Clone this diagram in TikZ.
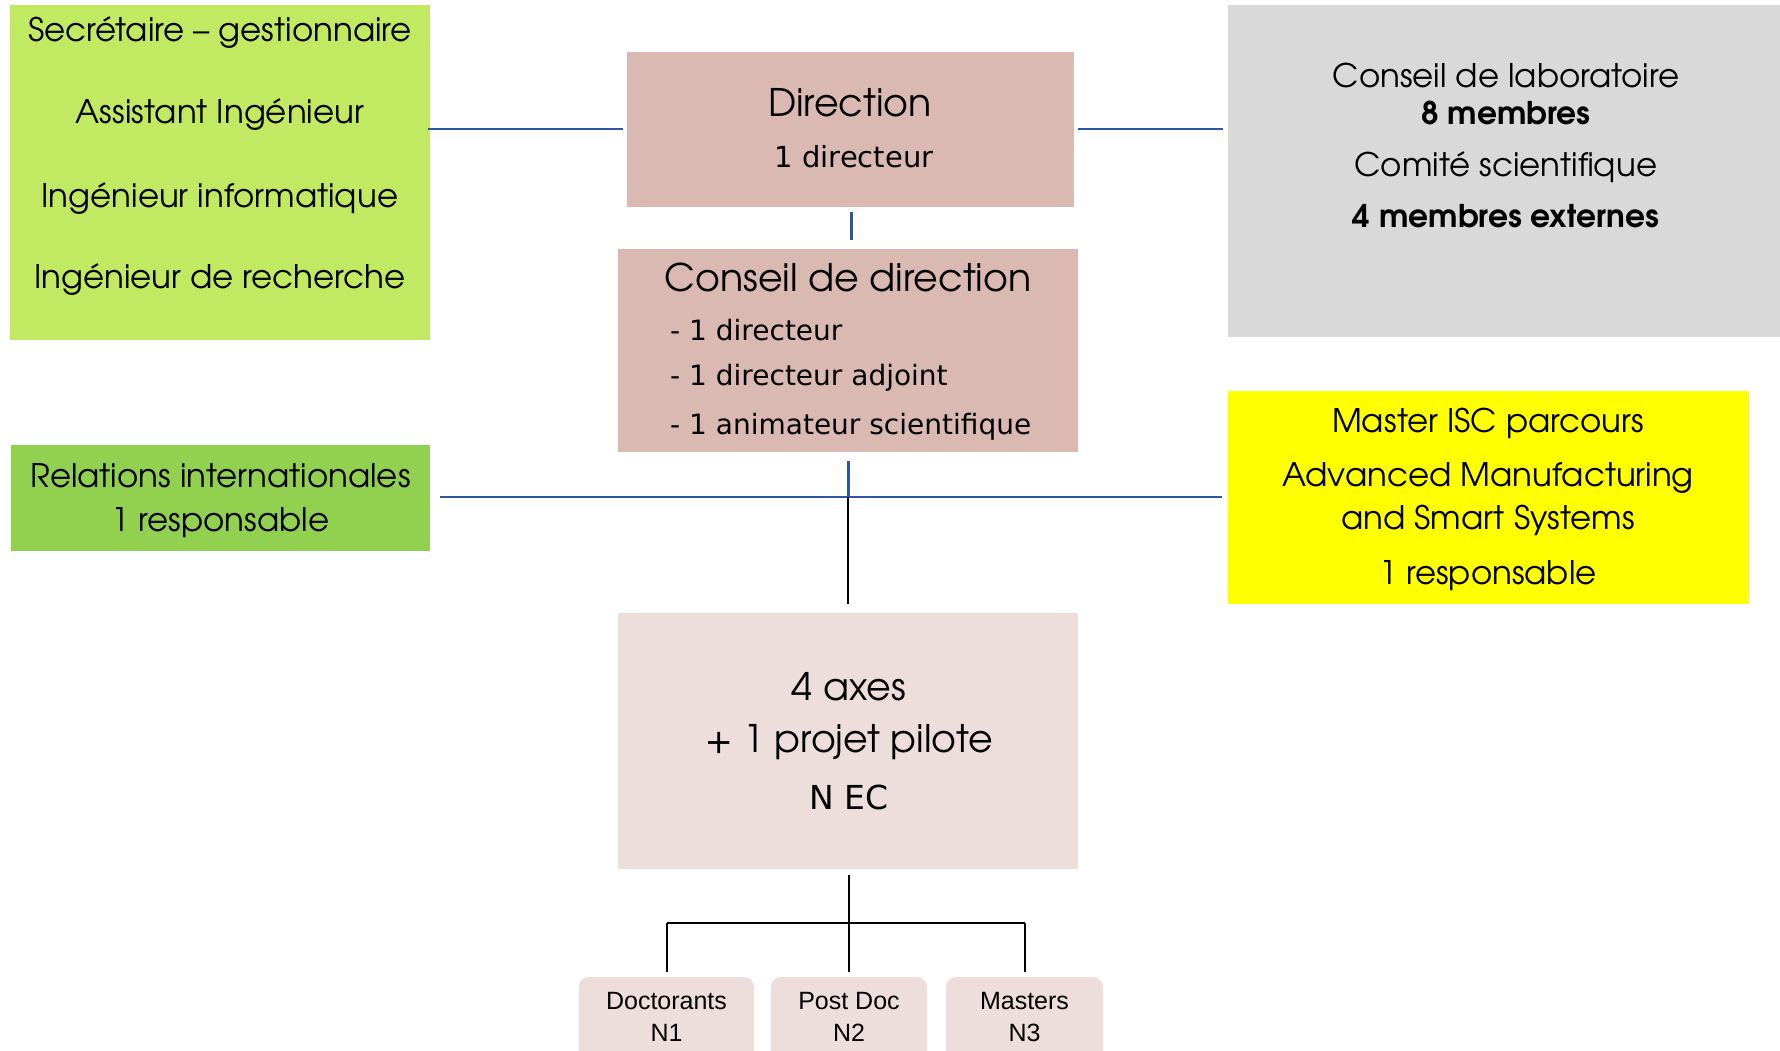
\documentclass[tikz,border=0pt]{standalone}
\usepackage{fontspec}
\setmainfont{texgyreadventor}[Extension=.otf, UprightFont=*-regular, BoldFont=*-bold]
\newfontfamily\tahoma{DejaVu Sans}
\newfontfamily\arial{Liberation Sans}
\definecolor{limeG}{HTML}{C2E962}
\definecolor{grassG}{HTML}{92D050}
\definecolor{roseD}{HTML}{DBB9B3}
\definecolor{roseL}{HTML}{EDDEDB}
\definecolor{greyC}{HTML}{D9D9D9}
\definecolor{yelC}{HTML}{FFFF00}
\definecolor{linkB}{HTML}{2F55A8}
\begin{document}
\begin{tikzpicture}[x=1pt,y=-1pt,
  box/.style={rectangle, inner sep=0pt, draw=none, anchor=center},
  bluelink/.style={draw=linkB, line width=2pt},
  blacklink/.style={draw=black, line width=2pt},
  big/.style={font=\fontsize{32.5}{32.5}\selectfont},
  bigbold/.style={font=\fontsize{31.3}{31.3}\selectfont\bfseries},
  txt/.style={anchor=center, inner sep=0pt}]
\useasboundingbox (0,0) rectangle (1780,1051);
\fill[white] (0,0) rectangle (1780,1051);

% boxes
\node[box, fill=limeG, minimum width=420pt, minimum height=335pt] (staff) at (220,172.5) {};
\node[box, fill=roseD, minimum width=447pt, minimum height=155pt] (dir) at (850.5,129.5) {};
\node[box, fill=roseD, minimum width=460pt, minimum height=203pt] (cdir) at (848,350.5) {};
\node[box, fill=greyC, minimum width=552pt, minimum height=332pt] (lab) at (1504,171) {};
\node[box, fill=grassG, minimum width=419pt, minimum height=106pt] (ri) at (220.5,498) {};
\node[box, fill=yelC, minimum width=521pt, minimum height=213pt] (master) at (1488.5,497.5) {};
\node[box, fill=roseL, minimum width=460pt, minimum height=256pt] (axes) at (848,741) {};

\begin{scope}
\clip (0,0) rectangle (1780,1051);
\node[box, fill=roseL, rounded corners=10pt, minimum width=175pt, minimum height=110pt] (doc) at (666.5,1032) {};
\node[box, fill=roseL, rounded corners=10pt, minimum width=156pt, minimum height=110pt] (post) at (849,1032) {};
\node[box, fill=roseL, rounded corners=10pt, minimum width=157pt, minimum height=110pt] (mast) at (1024.5,1032) {};
\end{scope}

% texts of the staff box
\node[txt, big] (s1) at (220,33) {Secrétaire – gestionnaire};
\node[txt, big] (s2) at (220,115) {Assistant Ingénieur};
\node[txt, big] (s3) at (220,199) {Ingénieur informatique};
\node[txt, big] (s4) at (220,280) {Ingénieur de recherche};

% direction
\node[txt, font=\fontsize{38}{38}\selectfont] (d1) at (850,103) {Direction};
\node[txt, font=\tahoma\fontsize{29}{29}\selectfont] (d2) at (854,157) {1 directeur};

% conseil de direction
\node[txt, font=\fontsize{38}{38}\selectfont] (c1) at (848,277) {Conseil de direction};
\begin{scope}[every node/.style={anchor=west, inner sep=0pt, font=\tahoma\fontsize{28}{28}\selectfont}]
\node (c2) at (670,330) {- 1 directeur};
\node (c3) at (670,378) {- 1 directeur adjoint};
\node (c4) at (670,427) {- 1 animateur scientifique};
\end{scope}

% laboratory councils
\node[txt, big] (l1) at (1506,75) {Conseil de laboratoire};
\node[txt, bigbold] (l2) at (1506,113) {8 membres};
\node[txt, big] (l3) at (1506,167) {Comité scientifique};
\node[txt, bigbold] (l4) at (1506,216) {4 membres externes};

% international relations
\node[txt, big] (r1) at (220.5,476) {Relations internationales};
\node[txt, big] (r2) at (220.5,523) {1 responsable};

% master
\node[txt, big] (m1) at (1488,423) {Master ISC parcours};
\node[txt, big] (m2) at (1488,478) {Advanced Manufacturing};
\node[txt, big] (m3) at (1488,520) {and Smart Systems};
\node[txt, big] (m4) at (1488,576) {1 responsable};

% axes
\node[txt, font=\fontsize{38}{38}\selectfont] (a1) at (849,687) {4 axes};
\node[txt, font=\fontsize{38}{38}\selectfont] (a2) at (849,742) {+ 1 projet pilote};
\node[txt, font=\tahoma\fontsize{33}{33}\selectfont] (a3) at (849,797) {N EC};

% bottom boxes
\begin{scope}[every node/.style={anchor=center, inner sep=0pt, align=center, font=\arial\fontsize{25}{32}\selectfont}]
\node (tdoc) at (666.5,1017) {Doctorants\\N1};
\node (tpost) at (849,1017) {Post Doc\\N2};
\node (tmast) at (1024.5,1017) {Masters\\N3};
\end{scope}

% connectors (y grows downwards, so a negative yshift moves down)
\coordinate (hub) at (848,497);
\coordinate (fork) at (849,923);
\coordinate (link) at (851,0);
\path[bluelink] ([xshift=-2pt]staff.east |- dir.west) -- ([xshift=-4pt]dir.west);
\path[bluelink] ([xshift=4pt]dir.east) -- ([xshift=-5pt]lab.west |- dir.east);
\path[draw=linkB, line width=3pt] ([yshift=-5pt]link |- dir.south) -- ([yshift=9pt]link |- cdir.north);
\path[draw=linkB, line width=3pt] ([yshift=-9pt]cdir.south) -- (hub);
\path[bluelink] ([xshift=10pt]ri.east |- hub) -- ([xshift=-6pt]master.west |- hub);
\path[blacklink] (hub) -- ([yshift=9pt]axes.north);
\path[blacklink] ([xshift=1pt,yshift=-6pt]axes.south) -- (fork);
\path[blacklink] (doc.north |- fork) -- (mast.north |- fork);
\path[blacklink] (doc.north |- fork) -- ([yshift=5pt]doc.north);
\path[blacklink] (fork) -- ([yshift=5pt]post.north);
\path[blacklink] (mast.north |- fork) -- ([yshift=5pt]mast.north);
\end{tikzpicture}
\end{document}
